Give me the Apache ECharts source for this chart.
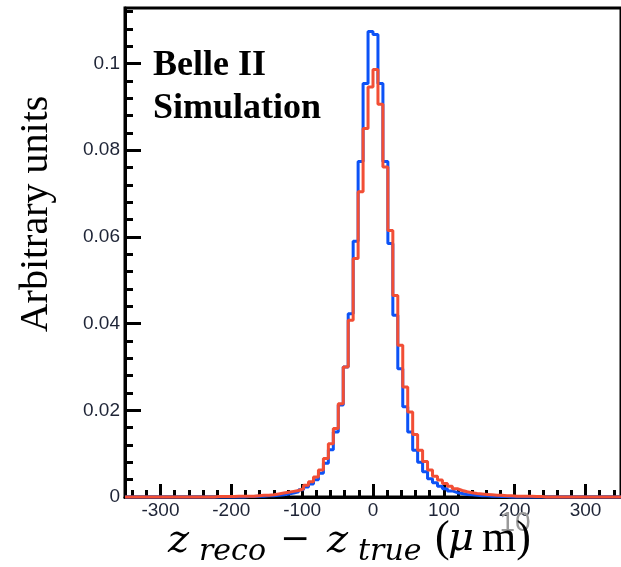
<!DOCTYPE html>
<html><head><meta charset="utf-8">
<script src="https://cdn.jsdelivr.net/npm/echarts@6/dist/echarts.min.js"></script>
<style>html,body{margin:0;padding:0;background:#fff}#chart{width:621px;height:567px}</style>
</head><body><div id="chart"></div>
<script>
// histogram binning (z_reco - z_true, micrometres)
const binMin = -350;
const binWidth = 7;
// blue histogram, 100 bins
const blueValues = [
  0,0,0,0,0,0,0,0,0,0,
  0,0,0,0,0,0,0,0,0,0,
  0,0,0,0,0.0001,0.0001,0.0002,0.0002,0.0003,0.0003,
  0.0004,0.0005,0.0007,0.0009,0.0012,0.0017,0.0023,0.0030,0.0040,0.0055,
  0.0078,0.0109,0.0150,0.0212,0.0300,0.0423,0.0590,0.0774,0.0954,0.1074,
  0.1067,0.0954,0.0774,0.0585,0.0419,0.0296,0.0208,0.0150,0.0108,0.0080,
  0.0058,0.0042,0.0033,0.0025,0.0019,0.0014,0.0010,0.0008,0.0006,0.0005,
  0.0004,0.0003,0.0003,0.0002,0.0002,0.0001,0.0001,0,0,0,
  0,0,0,0,0,0,0,0,0,0,
  0,0,0,0,0,0,0,0,0,0
];
// red histogram, 100 bins
const redValues = [
  0,0,0,0,0,0,0,0,0,0,
  0,0,0,0,0,0,0,0,0.0001,0.0001,
  0.0001,0.0001,0.0002,0.0002,0.0002,0.0002,0.0003,0.0004,0.0004,0.0005,
  0.0007,0.0009,0.0011,0.0013,0.0015,0.0019,0.0027,0.0035,0.0046,0.0062,
  0.0089,0.0123,0.0158,0.0215,0.0300,0.0408,0.0550,0.0704,0.0850,0.0946,
  0.0986,0.0906,0.0761,0.0615,0.0465,0.0350,0.0254,0.0196,0.0144,0.0108,
  0.0082,0.0062,0.0048,0.0039,0.0031,0.0025,0.0019,0.0015,0.0012,0.0010,
  0.0008,0.0007,0.0006,0.0005,0.0004,0.0004,0.0003,0.0003,0.0002,0.0002,
  0.0002,0.0002,0.0001,0.0001,0,0,0,0,0,0,
  0,0,0,0,0,0,0,0,0,0
];
const xTickValues = [-300,-200,-100,0,100,200,300];
const xTickLabels = ['-300','-200','-100','0','100','200','300'];
const yTickValues = [0,0.02,0.04,0.06,0.08,0.1];
const yTickLabels = ['0','0.02','0.04','0.06','0.08','0.1'];
const xMin = -350, xMax = 350, xMinorStep = 20;
const yMin = 0, yMax = 0.1128, yMinorStep = 0.004;

function toSteps(vals){
  const pts = vals.map((v,k)=>[binMin + k*binWidth, v]);
  pts.push([binMin + vals.length*binWidth, vals[vals.length-1]]);
  return pts;
}
const xMinor = [];
for (let v = Math.ceil(xMin/xMinorStep)*xMinorStep; v <= xMax; v += xMinorStep) {
  if (v % 100 !== 0) xMinor.push(v);
}
const yMinor = [];
for (let i = 1; i*yMinorStep <= yMax; i++) {
  if (i % 5 !== 0) yMinor.push(Math.round(i*yMinorStep*10000)/10000);
}
const tickStyle = {color:'#000', width:3};
const labelFont = {fontFamily:'Liberation Sans', fontSize:19, color:'#1e2436'};
const chart = echarts.init(document.getElementById('chart'), null, {renderer:'canvas'});
chart.setOption({
  animation:false,
  backgroundColor:'#fff',
  grid:{left:125, top:8, width:502, height:489, show:true, borderColor:'#000', borderWidth:3, backgroundColor:'transparent'},
  xAxis:[
    {type:'value', min:xMin, max:xMax, position:'bottom',
     axisLine:{show:true, onZero:false, lineStyle:tickStyle},
     axisTick:{show:true, inside:true, length:13, customValues:xTickValues, lineStyle:tickStyle},
     axisLabel:Object.assign({customValues:xTickValues, margin:4,
       formatter:(v)=>{const i = xTickValues.indexOf(v); return i>=0 ? xTickLabels[i] : '';}}, labelFont),
     splitLine:{show:false}},
    {type:'value', min:xMin, max:xMax, position:'bottom',
     axisLine:{show:false, onZero:false},
     axisTick:{show:true, inside:true, length:7, customValues:xMinor, lineStyle:tickStyle},
     axisLabel:{show:false, customValues:xMinor},
     splitLine:{show:false}}
  ],
  yAxis:[
    {type:'value', min:yMin, max:yMax, position:'left',
     axisLine:{show:true, onZero:false, lineStyle:tickStyle},
     axisTick:{show:true, inside:true, length:16, customValues:yTickValues, lineStyle:tickStyle},
     axisLabel:Object.assign({customValues:yTickValues, margin:5,
       formatter:(v)=>{const i = yTickValues.findIndex(t=>Math.abs(t-v)<1e-9); return i>=0 ? yTickLabels[i] : '';}}, labelFont),
     splitLine:{show:false}},
    {type:'value', min:yMin, max:yMax, position:'left',
     axisLine:{show:false, onZero:false},
     axisTick:{show:true, inside:true, length:8, customValues:yMinor, lineStyle:tickStyle},
     axisLabel:{show:false, customValues:yMinor},
     splitLine:{show:false}}
  ],
  series:[
    {type:'line', name:'blue', step:'end', data:toSteps(blueValues), xAxisIndex:0, yAxisIndex:0,
     symbol:'none', clip:false, z:3, lineStyle:{color:'#0c52f6', width:3}, itemStyle:{color:'#0c52f6'}},
    {type:'line', name:'red', step:'end', data:toSteps(redValues), xAxisIndex:0, yAxisIndex:0,
     symbol:'none', clip:false, z:4, lineStyle:{color:'#f24e35', width:3}, itemStyle:{color:'#f24e35'}}
  ],
  graphic:[
    {type:'text', x:153, y:66, z:10, style:{text:'Belle II', fontFamily:'Liberation Serif', fontWeight:'bold', fontSize:36, fill:'#000', align:'left', verticalAlign:'middle'}},
    {type:'text', x:153, y:109, z:10, style:{text:'Simulation', fontFamily:'Liberation Serif', fontWeight:'bold', fontSize:36, fill:'#000', align:'left', verticalAlign:'middle'}},
    {type:'text', x:36, y:214, rotation:Math.PI/2, z:10, style:{text:'Arbitrary units', fontFamily:'Liberation Serif', fontSize:40, fill:'#000', align:'center', verticalAlign:'middle'}},
    {type:'text', x:515, y:523, z:1, style:{text:'10', fontFamily:'Liberation Sans', fontSize:28, fill:'#9a9a9a', align:'center', verticalAlign:'middle'}},
    {type:'text', x:168, y:542, z:10, style:{text:'z', fontFamily:'DejaVu Serif', fontStyle:'italic', fontSize:40, fill:'#000', align:'left', verticalAlign:'middle'}},
    {type:'text', x:199, y:552, z:10, style:{text:'reco', fontFamily:'DejaVu Serif', fontStyle:'italic', fontSize:30, fill:'#000', align:'left', verticalAlign:'middle'}},
    {type:'text', x:280, y:541, z:10, style:{text:'\u2212', fontFamily:'DejaVu Serif', fontSize:36, fill:'#000', align:'left', verticalAlign:'middle'}},
    {type:'text', x:327, y:542, z:10, style:{text:'z', fontFamily:'DejaVu Serif', fontStyle:'italic', fontSize:40, fill:'#000', align:'left', verticalAlign:'middle'}},
    {type:'text', x:358, y:552, z:10, style:{text:'true', fontFamily:'DejaVu Serif', fontStyle:'italic', fontSize:30, fill:'#000', align:'left', verticalAlign:'middle'}},
    {type:'text', x:435, y:539, z:10, style:{text:'(', fontFamily:'Liberation Serif', fontSize:44, fill:'#000', align:'left', verticalAlign:'middle'}},
    {type:'text', x:448, y:540, z:10, style:{text:'\u03bc', fontFamily:'DejaVu Serif', fontStyle:'italic', fontSize:40, fill:'#000', align:'left', verticalAlign:'middle'}},
    {type:'text', x:482, y:539, z:10, style:{text:'m)', fontFamily:'Liberation Serif', fontSize:44, fill:'#000', align:'left', verticalAlign:'middle'}}
  ]
});
</script></body></html>
